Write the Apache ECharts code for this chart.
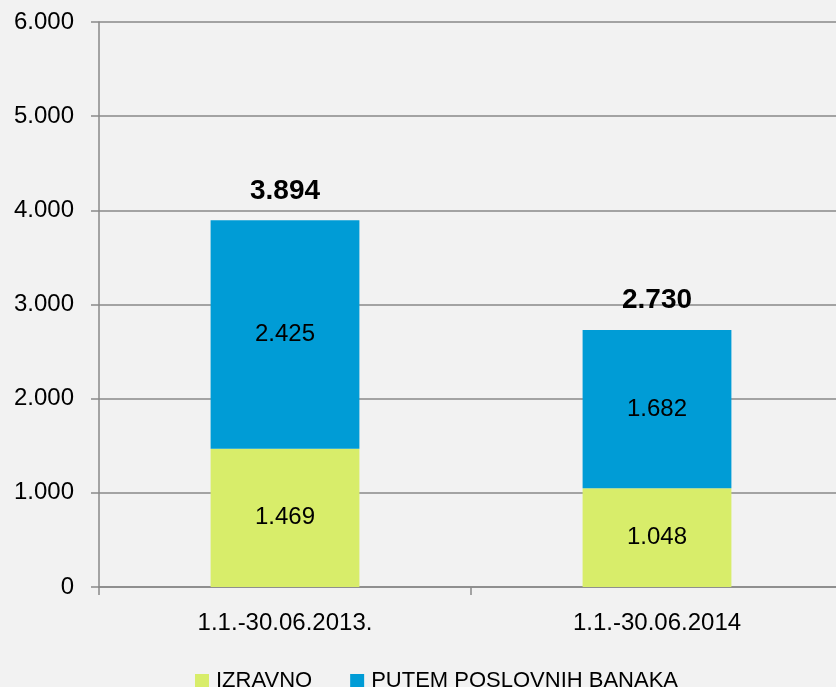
<!DOCTYPE html>
<html>
<head>
<meta charset="utf-8">
<script src="https://cdn.jsdelivr.net/npm/echarts@6/dist/echarts.min.js"></script>
<style>
	html, body { margin: 0; padding: 0; background: #f2f2f2; }
	#chart { width: 836px; height: 687px; }
</style>
</head>
<body>
<div id="chart"></div>
<script>
const categories = ['1.1.-30.06.2013.', '1.1.-30.06.2014']
const izravno = [1469, 1048]
const putemBanaka = [2425, 1682]
const totals = [3894, 2730]
const yTicks = [0, 1000, 2000, 3000, 4000, 5000, 6000]

const font = 'Liberation Sans'
const fmt = v => {
	const s = String(v)
	return s.length > 3 ? s.slice(0, s.length - 3) + '.' + s.slice(-3) : s
}

const chart = echarts.init(document.getElementById('chart'))
chart.setOption({
	animation: false,
	backgroundColor: '#f2f2f2',
	textStyle: { fontFamily: font },
	grid: { left: 99, top: 22, width: 744, bottom: 100, containLabel: false, outerBoundsMode: 'none' },
	legend: {
		data: ['IZRAVNO', 'PUTEM POSLOVNIH BANAKA'],
		left: 190,
		top: 665,
		icon: 'rect',
		itemWidth: 14,
		itemHeight: 14,
		itemGap: 38,
		textStyle: { fontFamily: font, fontSize: 22, color: '#000', padding: [0, 0, 0, 2] }
	},
	xAxis: {
		type: 'category',
		data: categories,
		axisLine: { lineStyle: { color: '#898989', width: 1.5 } },
		axisTick: { show: true, length: 8, lineStyle: { color: '#898989', width: 1.5 } },
		axisLabel: { fontFamily: font, fontSize: 24, color: '#000', margin: 24 }
	},
	yAxis: {
		type: 'value',
		min: yTicks[0],
		max: yTicks[yTicks.length - 1],
		interval: 1000,
		axisLine: { show: true, lineStyle: { color: '#898989', width: 1.5 } },
		axisTick: { show: true, length: 8, lineStyle: { color: '#898989', width: 1.5 } },
		splitLine: { lineStyle: { color: '#898989', width: 1.5 } },
		axisLabel: { fontFamily: font, fontSize: 24, color: '#000', margin: 25, formatter: fmt }
	},
	series: [
		{
			name: 'IZRAVNO',
			type: 'bar',
			stack: 'total',
			barWidth: '40%',
			data: izravno,
			itemStyle: { color: '#d8ed6a' },
			label: { show: true, position: 'inside', fontFamily: font, fontSize: 24, color: '#000', formatter: p => fmt(p.value) }
		},
		{
			name: 'PUTEM POSLOVNIH BANAKA',
			type: 'bar',
			stack: 'total',
			barWidth: '40%',
			data: putemBanaka,
			itemStyle: { color: '#009cd6' },
			label: { show: true, position: 'inside', fontFamily: font, fontSize: 24, color: '#000', formatter: p => fmt(p.value) }
		},
		{
			name: 'Ukupno',
			type: 'scatter',
			data: totals,
			symbolSize: 1,
			itemStyle: { color: 'rgba(0,0,0,0)', opacity: 1 },
			silent: true,
			z: 5,
			label: { show: true, position: 'top', distance: 15, fontFamily: font, fontSize: 28, fontWeight: 'bold', color: '#000', formatter: p => fmt(p.value) }
		}
	]
})
</script>
</body>
</html>
